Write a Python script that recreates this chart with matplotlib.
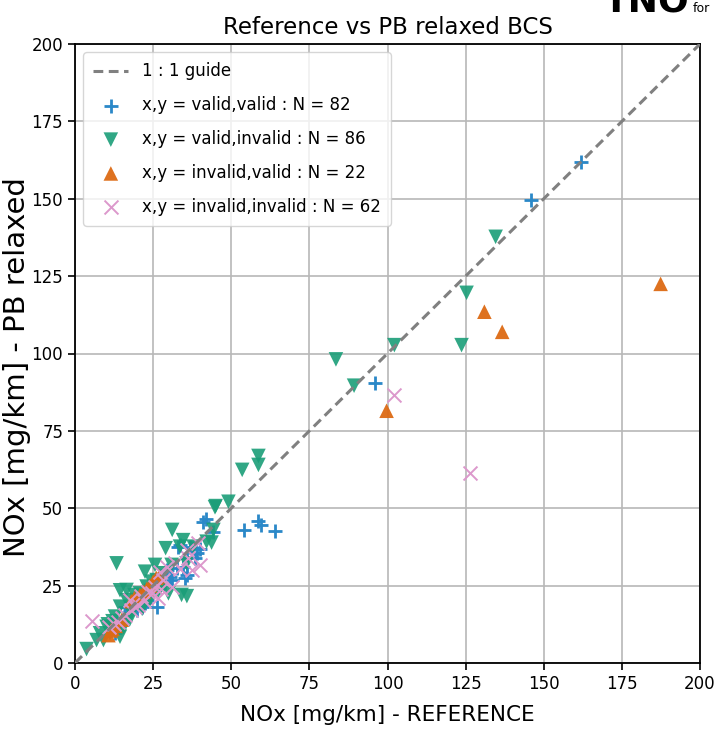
import matplotlib
matplotlib.use("Agg")
import matplotlib.pyplot as plt
import numpy as np

# ---------------- data ----------------
title = "Reference vs PB relaxed BCS"
x_label = "NOx [mg/km] - REFERENCE"
y_label = "NOx [mg/km] - PB relaxed"
ticks = [0, 25, 50, 75, 100, 125, 150, 175, 200]

vv_label = "x,y = valid,valid : N = 82"
vv_x = [162, 146, 96, 42, 54, 58.5, 59.5, 64, 33.6, 36.8, 40, 32.5, 35.7, 38.4, 44.3,
        33, 35.7, 35.2, 30.4, 28.8, 22.4, 26.1, 19.7, 14.4, 16, 17.6, 22.4, 12.8,
        37.3, 30.9, 26.7, 22.9, 21.3, 17.1, 41, 24, 27.5, 20.5, 15.5, 34.5, 39, 29.5]
vv_y = [162, 149.5, 90.5, 46.5, 43, 46, 44.5, 42.5, 38.1, 37.6, 36.7, 30.6, 28.4, 33.8, 42.4,
        37.6, 33.8, 27.4, 27.9, 25.7, 23.6, 18.2, 17.1, 12.3, 18.2, 17.1, 19.3, 9.6,
        37.1, 26.8, 25.7, 20.3, 18.2, 18.2, 45.7, 22.5, 26, 21, 14.5, 31, 35.5, 30]

vi_label = "x,y = valid,invalid : N = 86"
vi_x = [134.6, 125.3, 102.2, 123.7, 89.3, 83.5, 58.7, 58.7, 53.5, 49.1, 44.8, 44.3, 43.7,
        45, 42.1, 31.1, 29, 30.9, 34.1, 29.9, 13.3, 16.5, 22.4, 25.6, 24.5, 33.6, 37.9,
        35.7, 3.7, 8, 10.1, 12.8, 14.4, 18.1, 19.7, 20.8, 22.9, 26.1, 28.3, 16.5, 11.2,
        9.1, 14.4, 6.9, 27.2, 35.8, 14.4, 34.6, 12, 17.5, 21.5, 24, 19, 15.5, 10.5, 26.5]
vi_y = [137.7, 119.6, 102.7, 102.7, 89.6, 98.1, 66.9, 64, 62.4, 52.1, 50.3, 43, 38.9,
        50.7, 39.2, 43, 37.1, 31.7, 22, 22.5, 32.2, 23.6, 29.5, 31.7, 26.3, 37.6, 37.6,
        32.2, 4.5, 9.6, 11.7, 15, 18.2, 16, 20.3, 22.5, 24.7, 26.8, 29, 20.3, 9.6,
        7.4, 8.5, 7.4, 24.2, 21.6, 23.5, 39.7, 13.5, 14, 17.5, 20.5, 22, 11.5, 12.5, 23]

iv_label = "x,y = invalid,valid : N = 22"
iv_x = [187.4, 131, 136.7, 99.7, 10.7, 11.5, 20.8, 25, 23, 18, 26, 12, 15, 22, 27, 19, 24, 13]
iv_y = [122.5, 113.5, 107, 81.5, 9, 10.5, 22, 26.3, 24, 20, 27.5, 11, 14, 23, 28, 21, 25, 12]

ii_label = "x,y = invalid,invalid : N = 62"
ii_x = [102, 126.5, 5.3, 35.7, 39.5, 37.3, 40, 27.2, 25.6, 23.5, 26.7, 19.2, 16, 13.9, 17.6,
        28.3, 29.3, 32, 30.9, 21, 24.5, 18, 15, 12.5, 36, 33.5, 22, 20, 27.5, 11]
ii_y = [86.5, 61.5, 13.5, 36.5, 38.7, 30, 31.7, 29.5, 24.7, 23, 20.9, 18.2, 15.5, 13.3, 20.3,
        26.8, 31.1, 32.2, 24.7, 21.5, 22.5, 17, 14.5, 12.5, 34, 30.5, 20, 18.8, 24, 11.5]

guide_label = "1 : 1 guide"
guide = [0, 200]

logo_text = "TNO"
logo_sub = "for"

# ---------------- plot ----------------
plt.rcParams['font.family'] = ['DejaVu Sans']

fig = plt.figure(figsize=(7.17, 7.36), dpi=100)
ax = fig.add_axes([75/717, 1 - 663/736, 625/717, 619/736])

c_blue = '#2a88c8'
c_green = '#1a9e78'
c_orange = '#dd6a14'
c_pink = '#dc98cc'

ax.plot(guide, guide, linestyle='--', color='#808080', lw=2.2, dashes=(3.2, 1.8),
        label=guide_label, zorder=3)
ax.scatter(vv_x, vv_y, marker='+', s=100, linewidths=2, color=c_blue, label=vv_label, zorder=2)
ax.scatter(vi_x, vi_y, marker='v', s=110, color=c_green, alpha=0.9, edgecolors='none',
           label=vi_label, zorder=2)
ax.scatter(iv_x, iv_y, marker='^', s=110, color=c_orange, alpha=0.95, edgecolors='none',
           label=iv_label, zorder=2)
ax.scatter(ii_x, ii_y, marker='x', s=100, linewidths=1.4, color=c_pink, label=ii_label, zorder=2)

ax.set_xlim(0, 200)
ax.set_ylim(0, 200)
ax.set_xticks(ticks)
ax.set_yticks(ticks)
ax.grid(True, color='#b8b8b8', lw=1.2)
ax.set_axisbelow(True)
for s in ax.spines.values():
    s.set_linewidth(1.3)
ax.tick_params(length=5, width=1.2, labelsize=12)

ax.set_title(title, fontsize=16.5, pad=7)
ax.set_xlabel(x_label, fontsize=15.5, labelpad=9)
ax.set_ylabel(y_label, fontsize=21)
ax.yaxis.set_label_coords(-0.071, 0.478)

leg = ax.legend(loc='upper left', fontsize=12, scatterpoints=1,
                framealpha=0.8, borderpad=0.6, labelspacing=0.95,
                handlelength=2.1, handletextpad=0.8, borderaxespad=0.5)

fig.text(690/717, 1 - 12/736, logo_text, fontsize=26, fontweight='bold', ha='right',
         va='baseline')
fig.text(693/717, 1 - 12/736, logo_sub, fontsize=9, ha='left', va='baseline')

fig.savefig("out.png", dpi=100)
